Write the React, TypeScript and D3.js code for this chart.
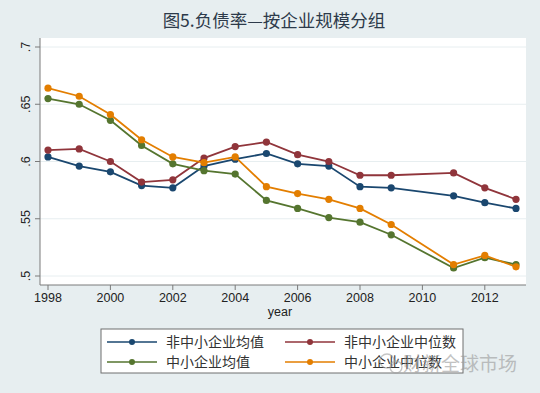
import React from 'react';
import * as d3 from 'd3';

const years = [1998, 1999, 2000, 2001, 2002, 2003, 2004, 2005, 2006, 2007, 2008, 2009, 2011, 2012, 2013];
const largeMean = [0.604, 0.596, 0.591, 0.579, 0.577, 0.596, 0.602, 0.607, 0.598, 0.596, 0.578, 0.577, 0.570, 0.564, 0.559];
const largeMedian = [0.610, 0.611, 0.600, 0.582, 0.584, 0.603, 0.613, 0.617, 0.606, 0.600, 0.588, 0.588, 0.590, 0.577, 0.567];
const smeMean = [0.655, 0.650, 0.636, 0.614, 0.598, 0.592, 0.589, 0.566, 0.559, 0.551, 0.547, 0.536, 0.507, 0.516, 0.510];
const smeMedian = [0.664, 0.657, 0.641, 0.619, 0.604, 0.599, 0.604, 0.578, 0.572, 0.567, 0.559, 0.545, 0.510, 0.518, 0.508];
const xTicks = [1998, 2000, 2002, 2004, 2006, 2008, 2010, 2012];
const yTicks = [0.5, 0.55, 0.6, 0.65, 0.7];
const yTickLabels = ['.5', '.55', '.6', '.65', '.7'];

const seriesList = [
    {name: '非中小企业均值', values: largeMean, color: '#1a476f'},
    {name: '非中小企业中位数', values: largeMedian, color: '#90353b'},
    {name: '中小企业均值', values: smeMean, color: '#55752f'},
    {name: '中小企业中位数', values: smeMedian, color: '#e37e00'},
];

const W = 540, H = 393;
const plot = {left: 40, right: 526, top: 38, bottom: 285};
const font = '"Liberation Sans", Arial, sans-serif';
const cjk = '"Noto Sans CJK SC", sans-serif';

export default function App()
{
    const x = d3.scaleLinear().domain([1998, 2013]).range([48, 516]);
    const y = d3.scaleLinear().domain([0.5, 0.7]).range([276, 47]);

    const line = d3.line<number>()
        .x((d, i) => x(years[i]))
        .y(d => y(d));

    return (
        <div style={{position: 'absolute', left: 0, top: 0}}>
            <svg width={W} height={H} style={{display: 'block'}}>
                <rect width={W} height={H} fill="#e7eef0"/>
                <text x={274} y={27} textAnchor="middle" fontFamily={cjk} fontSize={17.5} fill="#2d3a4a">
                    图5.负债率—按企业规模分组
                </text>
                <rect x={plot.left} y={plot.top} width={plot.right - plot.left}
                      height={plot.bottom - plot.top} fill="#ffffff"/>
                {yTicks.map(t => (
                    <line key={t} x1={plot.left} x2={plot.right} y1={y(t)} y2={y(t)}
                          stroke="#e7eef0" strokeWidth={1}/>
                ))}
                {/* axes */}
                <line x1={plot.left} x2={plot.left} y1={plot.top} y2={plot.bottom} stroke="#7a7a7a"/>
                <line x1={plot.left} x2={plot.right} y1={plot.bottom} y2={plot.bottom} stroke="#7a7a7a"/>
                {yTicks.map((t, i) => (
                    <g key={t}>
                        <line x1={plot.left - 5} x2={plot.left} y1={y(t)} y2={y(t)} stroke="#7a7a7a"/>
                        <text transform={`translate(30,${y(t)}) rotate(-90)`} textAnchor="middle"
                              fontFamily={font} fontSize={12.5} fill="#222">{yTickLabels[i]}</text>
                    </g>
                ))}
                {xTicks.map(t => (
                    <g key={t}>
                        <line x1={x(t)} x2={x(t)} y1={plot.bottom} y2={plot.bottom + 5} stroke="#7a7a7a"/>
                        <text x={x(t)} y={plot.bottom + 17} textAnchor="middle"
                              fontFamily={font} fontSize={12.5} fill="#222">{t}</text>
                    </g>
                ))}
                <text x={(plot.left + plot.right) / 2 - 3} y={plot.bottom + 31} textAnchor="middle"
                      fontFamily={font} fontSize={12.5} fill="#222">year</text>
                {seriesList.map(s => (
                    <g key={s.name}>
                        <path d={line(s.values) || ''} fill="none" stroke={s.color} strokeWidth={1.8}/>
                        {s.values.map((v, i) => (
                            <circle key={i} cx={x(years[i])} cy={y(v)} r={3.6} fill={s.color}/>
                        ))}
                    </g>
                ))}
                {/* legend */}
                <rect x={101} y={329} width={362} height={44} fill="#ffffff" stroke="#6f6f6f" strokeWidth={1}/>
                {seriesList.map((s, i) => {
                    const lx = i % 2 === 0 ? 107 : 285;
                    const ly = i < 2 ? 342 : 362;
                    return (
                        <g key={s.name}>
                            <line x1={lx} x2={lx + 50} y1={ly} y2={ly} stroke={s.color} strokeWidth={1.5}/>
                            <circle cx={lx + 25} cy={ly} r={3} fill={s.color}/>
                            <text x={lx + 59} y={ly + 5} fontFamily={cjk} fontSize={14} fill="#333">{s.name}</text>
                        </g>
                    );
                })}
                {/* watermark */}
                <g opacity={0.6}>
                    <circle cx={387} cy={361} r={7} fill="none" stroke="#a0a0a0" strokeWidth={1.3}/>
                    <circle cx={396} cy={367} r={6} fill="none" stroke="#a0a0a0" strokeWidth={1.3}/>
                    <text x={403} y={371} fontFamily={cjk} fontSize={19} fill="#9a9a9a">财新全球市场</text>
                </g>
            </svg>
        </div>
    );
}
